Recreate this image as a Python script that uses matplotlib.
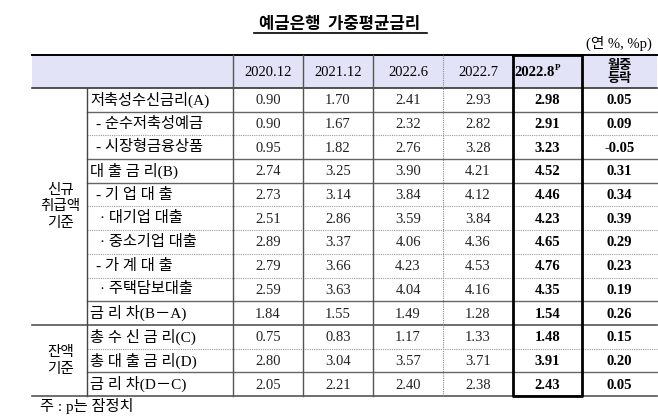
import matplotlib.pyplot as plt

# ---- data ----
col_labels = ["2020.12", "2021.12", "2022.6", "2022.7"]
row_labels = ["저축성수신금리(A)", "- 순수저축성예금", "- 시장형금융상품",
              "대 출 금 리(B)", "- 기 업 대 출", "· 대기업 대출", "· 중소기업 대출",
              "- 가 계 대 출", "· 주택담보대출", "금 리 차(B－A)",
              "총 수 신 금 리(C)", "총 대 출 금 리(D)", "금 리 차(D－C)"]
indent = [0, 1, 1, 0, 1, 2, 2, 1, 2, 0, 0, 0, 0]
groups = [("신규\n취급액\n기준", 0, 9), ("잔액\n기준", 10, 12)]
v2020_12 = [0.90, 0.90, 0.95, 2.74, 2.73, 2.51, 2.89, 2.79, 2.59, 1.84, 0.75, 2.80, 2.05]
v2021_12 = [1.70, 1.67, 1.82, 3.25, 3.14, 2.86, 3.37, 3.66, 3.63, 1.55, 0.83, 3.04, 2.21]
v2022_6 = [2.41, 2.32, 2.76, 3.90, 3.84, 3.59, 4.06, 4.23, 4.04, 1.49, 1.17, 3.57, 2.40]
v2022_7 = [2.93, 2.82, 3.28, 4.21, 4.12, 3.84, 4.36, 4.53, 4.16, 1.28, 1.33, 3.71, 2.38]
v2022_8 = [2.98, 2.91, 3.23, 4.52, 4.46, 4.23, 4.65, 4.76, 4.35, 1.54, 1.48, 3.91, 2.43]
change = [0.05, 0.09, -0.05, 0.31, 0.34, 0.39, 0.29, 0.23, 0.19, 0.26, 0.15, 0.20, 0.05]
# line under each row: 's' solid, 'd' dotted, 'f' solid full width
row_sep = ['s', 'd', 's', 's', 'd', 'd', 'd', 'd', 's', 'f', 'd', 's', 'f']

title = "예금은행  가중평균금리"
unit = "(연 %, %p)"
note = "주 : p는 잠정치"

# ---- layout (pixels) ----
W, H = 658, 418
xs = [32, 87, 233, 303, 373, 443, 513, 582, 657]
head_top, head_bot = 55, 88
row_h = (396 - head_bot) / len(row_labels)

SER = ['Liberation Serif', 'Noto Sans CJK KR']
KR = ['Noto Sans CJK KR', 'DejaVu Sans']

fig = plt.figure(figsize=(W / 100, H / 100), dpi=100)
ax = fig.add_axes([0, 0, 1, 1])
ax.set_xlim(0, W)
ax.set_ylim(H, 0)
ax.axis('off')

# title & unit
ax.text(340, 24, title, ha='center', va='center', fontsize=12, fontweight='bold', family=KR)
ax.plot([254, 427], [33, 33], color='black', lw=1.2)
ax.text(652, 43, unit, ha='right', va='center', fontsize=10.5, family=SER)

# header
ax.fill_between([xs[0], xs[-1]], head_top, head_bot, color='#e2e3f6', lw=0)
ax.plot([xs[0], xs[-1]], [head_top, head_top], color='black', lw=1.4)
ax.plot([xs[0], xs[-1]], [head_bot, head_bot], color='#333333', lw=1.2)
hy = (head_top + head_bot) / 2
for i, lab in enumerate(col_labels):
    ax.text((xs[i + 2] + xs[i + 3]) / 2, hy + 1, lab, ha='center', va='center',
            fontsize=10.5, family=SER)
cx8 = (xs[6] + xs[7]) / 2
ax.text(cx8 + 7, hy + 1, "2022.8", ha='right', va='center', fontsize=10.5,
        fontweight='bold', family=SER)
ax.text(cx8 + 7.5, hy - 4, "P", ha='left', va='center', fontsize=6.5,
        fontweight='bold', family=SER)
ax.text((xs[7] + xs[8]) / 2, hy, "월중\n등락", ha='center', va='center', fontsize=9.5,
        fontweight='bold', family=KR, linespacing=0.95)

# body
n = len(row_labels)
cols = [v2020_12, v2021_12, v2022_6, v2022_7]
for r in range(n):
    yc = head_bot + (r + 0.5) * row_h
    ax.text(90 + [0, 6, 10][indent[r]], yc, row_labels[r], ha='left', va='center',
            fontsize=11, family=SER)
    for c, vals in enumerate(cols):
        ax.text((xs[c + 2] + xs[c + 3]) / 2, yc + 1, f"{vals[r]:.2f}", ha='center',
                va='center', fontsize=10.5, family=SER, color='#222222')
    ax.text(cx8, yc + 1, f"{v2022_8[r]:.2f}", ha='center', va='center', fontsize=10.5,
            fontweight='bold', family=SER)
    ax.text((xs[7] + xs[8]) / 2, yc + 1, f"{change[r]:.2f}", ha='center', va='center',
            fontsize=10.5, fontweight='bold', family=SER)
    yb = head_bot + (r + 1) * row_h
    s = row_sep[r]
    if s == 'd':
        ax.plot([xs[1], xs[-1]], [yb, yb], color='#9a9a9a', lw=0.8, ls=(0, (1, 1)))
    elif s == 's':
        ax.plot([xs[1], xs[-1]], [yb, yb], color='#666666', lw=1.0)
    else:
        ax.plot([xs[0], xs[-1]], [yb, yb], color='#555555', lw=1.2)

# group labels
for lab, r0, r1 in groups:
    yc = head_bot + (r0 + r1 + 1) / 2 * row_h
    ax.text((xs[0] + xs[1]) / 2 + 1, yc, lab, ha='center', va='center', fontsize=10.5,
            family=KR, linespacing=1.2)

bottom = head_bot + n * row_h
# vertical lines
ax.plot([xs[1], xs[1]], [head_bot, bottom], color='#444444', lw=1.0)
for x in xs[2:5]:
    ax.plot([x, x], [head_top, bottom], color='#555555', lw=1.0)
ax.plot([xs[5], xs[5]], [head_top, bottom], color='#888888', lw=0.8, ls=(0, (1, 1)))
# bold box around latest column
ax.plot([xs[6], xs[7], xs[7], xs[6], xs[6]], [head_top, head_top, bottom, bottom, head_top],
        color='black', lw=2.0)

ax.text(40, 406, note, ha='left', va='center', fontsize=11, family=SER)

fig.savefig("out.png", dpi=100)
